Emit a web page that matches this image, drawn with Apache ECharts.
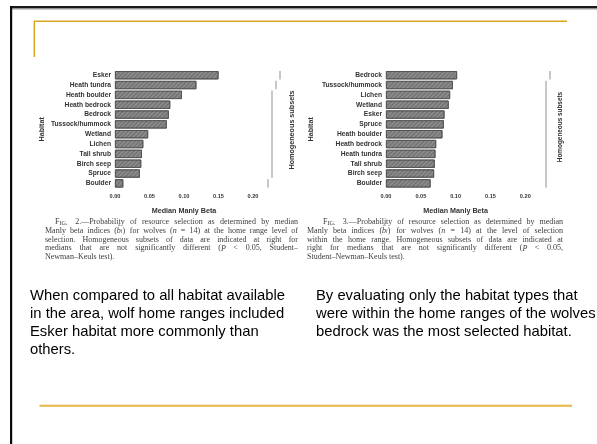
<!DOCTYPE html>
<html><head><meta charset="utf-8">
<script src="https://cdn.jsdelivr.net/npm/echarts@6/dist/echarts.min.js"></script>
<style>html,body{margin:0;padding:0;background:#fff}#c{width:597px;height:444px}</style>
</head><body><div id="c"></div>
<script>
// ---- data ----
const habitats2 = ['Esker','Heath tundra','Heath boulder','Heath bedrock','Bedrock','Tussock/hummock','Wetland','Lichen','Tall shrub','Birch seep','Spruce','Boulder'];
const beta2 = [0.150,0.118,0.097,0.080,0.078,0.075,0.048,0.041,0.039,0.038,0.036,0.012];
const subsets2 = [[0,0],[1,1],[2,10],[11,11]];
const habitats3 = ['Bedrock','Tussock/hummock','Lichen','Wetland','Esker','Spruce','Heath boulder','Heath bedrock','Heath tundra','Tall shrub','Birch seep','Boulder'];
const beta3 = [0.102,0.096,0.092,0.090,0.084,0.083,0.081,0.072,0.071,0.070,0.069,0.064];
const subsets3 = [[0,0],[1,11]];
const xTicks = [0, 0.05, 0.10, 0.15, 0.20];
const xTitle = 'Median Manly Beta';
const yTitle = 'Habitat';
const subsetTitle = 'Homogeneous subsets';
const caption2 = [
  'FIG. 2.—Probability of resource selection as determined by median',
  'Manly beta indices (b̂i) for wolves (n = 14) at the home range level of',
  'selection. Homogeneous subsets of data are indicated at right for',
  'medians that are not significantly different (P < 0.05, Student–',
  'Newman–Keuls test).'
];
const caption3 = [
  'FIG. 3.—Probability of resource selection as determined by median',
  'Manly beta indices (b̂i) for wolves (n = 14) at the level of selection',
  'within the home range. Homogeneous subsets of data are indicated at',
  'right for medians that are not significantly different (P < 0.05,',
  'Student–Newman–Keuls test).'
];
const body2 = ['When compared to all habitat available','in the area, wolf home ranges included','Esker habitat more commonly than','others.'];
const body3 = ['By evaluating only the habitat types that','were within the home ranges of the wolves','bedrock was the most selected habitat.'];

// ---- styling / layout ----
const SANS = '"Liberation Sans", Arial, sans-serif';
const SERIF = '"Liberation Serif", "Times New Roman", serif';
const LAB = '#333';
const CAP = '#3c3c3c';
const xMin = xTicks[0], xMax = xTicks[xTicks.length-1], xStep = xTicks[1]-xTicks[0];

const chart = echarts.init(document.getElementById('c'), null, {renderer:'canvas'});

function xAxisCfg(gi){
  return {type:'value', gridIndex:gi, min:xMin, max:xMax, interval:xStep,
    axisLine:{show:false}, axisTick:{show:false}, splitLine:{show:false},
    axisLabel:{formatter:v=>v.toFixed(2), fontSize:5.6, fontWeight:'bold', color:LAB, margin:5, fontFamily:SANS},
    name:xTitle, nameLocation:'middle', nameGap:19, nameMoveOverlap:false,
    nameTextStyle:{fontSize:7.2, fontWeight:'bold', color:LAB, fontFamily:SANS}};
}
function yAxisCfg(gi, cats, gap){
  return {type:'category', gridIndex:gi, inverse:true, data:cats,
    axisLine:{show:false}, axisTick:{show:false}, splitLine:{show:false},
    axisLabel:{fontSize:6.7, fontWeight:'bold', color:LAB, margin:4, fontFamily:SANS},
    name:yTitle, nameLocation:'middle', nameRotate:90, nameGap:gap, nameMoveOverlap:false,
    nameTextStyle:{fontSize:7.2, fontWeight:'bold', color:LAB, fontFamily:SANS}};
}
function barSeries(gi, vals){
  return {type:'bar', xAxisIndex:gi, yAxisIndex:gi, data:vals, barCategoryGap:'16%', silent:true,
    itemStyle:{color:'#8a8a8a', borderColor:'#505050', borderWidth:0.8,
      decal:{symbol:'rect', symbolSize:1, dashArrayX:[[1,0]], dashArrayY:[1,2], rotation:-Math.PI/4, color:'rgba(60,60,60,0.38)'}}};
}
function subsetSeries(gi, subsets, base){
  return {type:'custom', xAxisIndex:gi, yAxisIndex:gi, clip:false, silent:true,
    data: subsets.map((s,k)=>[xMax, s[0], s[1], subsets.length-1-k]),
    encode:{x:0, y:[1,2]},
    renderItem(params, api){
      const p0 = api.coord([api.value(0), api.value(1)]);
      const p1 = api.coord([api.value(0), api.value(2)]);
      const band = api.size([0,1])[1];
      const x = p0[0] + base + api.value(3)*4;
      return {type:'line', shape:{x1:x, y1:p0[1]-band*0.43, x2:x, y2:p1[1]+band*0.43},
        style:{stroke:'#8f8f8f', lineWidth:1}};
    }};
}

// caption justification
const mctx = document.createElement('canvas').getContext('2d');
function tw(t, font){ mctx.font = font; return mctx.measureText(t).width; }
function richWord(w){
  return w.replace('FIG.', '{sc|F}{sm|IG.}')
    .replace('(b̂i)', '({it|b̂}{sub|i})')
    .replace(/^\(n$/, '({it|n}')
    .replace(/^\(P$/, '({it|P}');
}
function captionEls(lines, x0, x1, indent, y0, dy, fs){
  const font = fs + 'px ' + SERIF;
  const rich = {
    sc:{fontSize:fs, fontFamily:SERIF, fill:CAP, verticalAlign:'bottom'},
    sm:{fontSize:fs*0.78, fontFamily:SERIF, fill:CAP, verticalAlign:'bottom'},
    it:{fontSize:fs, fontFamily:SERIF, fontStyle:'italic', fill:CAP, verticalAlign:'bottom'},
    sub:{fontSize:fs*0.7, fontFamily:SERIF, fontStyle:'italic', fill:CAP, verticalAlign:'bottom'}
  };
  const els = [];
  lines.forEach((ln, li)=>{
    const words = ln.split(' ');
    const start = x0 + (li===0 ? indent : 0);
    const ws = words.map(w=>tw(w, font));
    const total = ws.reduce((a,b)=>a+b,0);
    const last = li === lines.length-1;
    const gap = last ? tw(' ', font) : (x1 - start - total)/(words.length-1);
    let x = start;
    words.forEach((w,i)=>{
      els.push({type:'text', x:x, y:y0+li*dy, silent:true,
        style:{text:richWord(w), fontSize:fs, fontFamily:SERIF, fill:CAP, verticalAlign:'middle', align:'left', rich:rich}});
      x += ws[i] + gap;
    });
  });
  return els;
}
function bodyEls(lines, x, y0, dy){
  return lines.map((t,i)=>({type:'text', x:x, y:y0+i*dy, silent:true,
    style:{text:t, fontSize:14.8, fontFamily:SANS, fill:'#000', verticalAlign:'middle', align:'left'}}));
}

const graphics = [
  // slide frame
  {type:'rect', shape:{x:10, y:6, width:587, height:2.4}, style:{fill:'#1a1a1a'}, silent:true},
  {type:'rect', shape:{x:10, y:8.4, width:587, height:1.1}, style:{fill:'#9a9a9a'}, silent:true},
  {type:'rect', shape:{x:10, y:6, width:2.2, height:438}, style:{fill:'#0a0a0a'}, silent:true},
  {type:'line', shape:{x1:34, y1:21.3, x2:567, y2:21.3}, style:{stroke:'#D9A521', lineWidth:1.5}, silent:true},
  {type:'line', shape:{x1:34.3, y1:21.3, x2:34.3, y2:57}, style:{stroke:'#D9A521', lineWidth:1.5}, silent:true},
  {type:'line', shape:{x1:39.5, y1:405.7, x2:572, y2:405.7}, style:{stroke:'#E6B743', lineWidth:2}, silent:true},
  // subset titles
  {type:'text', x:292, y:130, rotation:Math.PI/2, silent:true,
    style:{text:subsetTitle, fontSize:7.2, fontWeight:'bold', fontFamily:SANS, fill:LAB, align:'center', verticalAlign:'middle'}},
  {type:'text', x:560.5, y:127, rotation:Math.PI/2, silent:true,
    style:{text:subsetTitle, fontSize:6.4, fontWeight:'bold', fontFamily:SANS, fill:LAB, align:'center', verticalAlign:'middle'}},
  ...captionEls(caption2, 45, 298, 10, 222, 8.8, 8),
  ...captionEls(caption3, 307, 563, 16, 222, 8.8, 8),
  ...bodyEls(body2, 30, 296, 18),
  ...bodyEls(body3, 316, 296, 18)
];

chart.setOption({
  animation:false,
  backgroundColor:'#fff',
  grid:[{left:115, top:70.3, width:138, height:118},{left:386, top:70.3, width:139.3, height:118}],
  xAxis:[xAxisCfg(0), xAxisCfg(1)],
  yAxis:[yAxisCfg(0, habitats2, 69), yAxisCfg(1, habitats3, 71)],
  series:[barSeries(0, beta2), subsetSeries(0, subsets2, 15), barSeries(1, beta3), subsetSeries(1, subsets3, 20.7)],
  graphic:{elements:graphics}
});
</script>
</body></html>
